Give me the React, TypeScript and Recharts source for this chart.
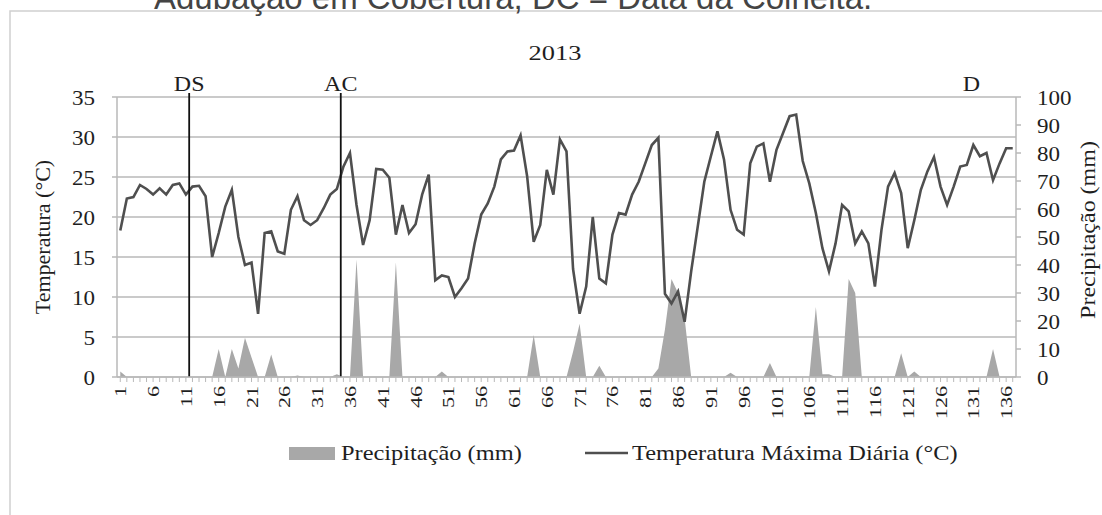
import React from 'react';
import {
  ComposedChart,
  Line,
  Area,
  XAxis,
  YAxis,
  CartesianGrid,
  ReferenceLine,
  Customized,
} from 'recharts';

// ---------- data ----------
const days: number[] = Array.from({ length: 137 }, (_, i) => i + 1);

const temperature: number[] = [
  18.3, 22.3, 22.5, 24.0, 23.5, 22.8, 23.6, 22.8, 24.0, 24.2,
  22.8, 23.8, 23.9, 22.6, 15.0, 18.0, 21.3, 23.4, 17.5, 14.0,
  14.3, 7.9, 18.0, 18.2, 15.7, 15.4, 20.9, 22.6, 19.6, 19.0,
  19.6, 21.1, 22.8, 23.5, 26.3, 28.0, 21.5, 16.5, 19.6, 26.0,
  25.9, 24.9, 17.8, 21.5, 18.0, 19.1, 22.8, 25.3, 12.1, 12.7,
  12.5, 10.0, 11.1, 12.3, 16.7, 20.3, 21.7, 23.8, 27.2, 28.2,
  28.3, 30.2, 25.1, 16.9, 19.0, 25.9, 22.8, 29.7, 28.2, 13.5,
  7.9, 11.3, 20.0, 12.3, 11.7, 17.8, 20.5, 20.3, 22.8, 24.4,
  26.7, 29.0, 29.9, 10.4, 9.2, 10.7, 6.9, 13.2, 18.8, 24.4,
  27.6, 30.7, 27.2, 20.9, 18.4, 17.8, 26.7, 28.8, 29.2, 24.4,
  28.4, 30.5, 32.6, 32.8, 27.0, 24.2, 20.5, 16.1, 13.2, 16.7,
  21.5, 20.7, 16.7, 18.2, 16.7, 11.3, 18.4, 23.8, 25.5, 23.0,
  16.1, 19.6, 23.4, 25.7, 27.5, 23.8, 21.5, 23.8, 26.3, 26.5,
  29.0, 27.6, 28.0, 24.6, 26.7, 28.6, 28.6,
];

const precipitation: number[] = [
  2, 0, 0, 0, 0, 0, 0, 0, 0, 0,
  0, 0, 0, 0, 0, 10, 0, 10, 3, 14,
  7, 0, 0, 8, 0, 0, 0, 0.5, 0, 0,
  0, 0, 0, 1, 0, 0, 42, 0, 0, 0,
  0, 0, 41, 0, 0, 0, 0, 0, 0, 2,
  0, 0, 0, 0, 0, 0, 0, 0, 0, 0,
  0, 0, 0, 15, 0, 0, 0, 0, 0, 9,
  19, 0, 0, 4, 0, 0, 0, 0, 0, 0,
  0, 0, 3, 17, 35, 30, 21, 0, 0, 0,
  0, 0, 0, 1.5, 0, 0, 0, 0, 0, 5,
  0, 0, 0, 0, 0, 0, 25, 1, 1, 0,
  0, 35, 30, 0, 0, 0, 0, 0, 0, 8.5,
  0, 2, 0, 0, 0, 0, 0, 0, 0, 0,
  0, 0, 0, 10, 0, 0, 0,
];

const xTickLabels: number[] = [
  1, 6, 11, 16, 21, 26, 31, 36, 41, 46, 51, 56, 61, 66, 71, 76, 81, 86, 91,
  96, 101, 106, 111, 116, 121, 126, 131, 136,
];
const tempTicks: number[] = [0, 5, 10, 15, 20, 25, 30, 35];
const precipTicks: number[] = [0, 10, 20, 30, 40, 50, 60, 70, 80, 90, 100];

const markerLabels: string[] = ['DS', 'AC', 'D'];
const markerDays: number[] = [11.5, 34.6, 130.7];
const markerDrawn: boolean[] = [true, true, false];

const chartYear = '2013';
const seriesNames = ['Precipitação (mm)', 'Temperatura Máxima Diária (°C)'];
const axisTitles = ['Temperatura (°C)', 'Precipitação (mm)'];
const topCaption = 'Adubação em Cobertura; DC = Data da Colheita.';

const data = days.map((d, i) => ({
  day: d,
  temp: temperature[i],
  precip: precipitation[i],
}));

// ---------- styles ----------
const SERIF = '"Liberation Serif", "Times New Roman", serif';
const SANS = '"Liberation Sans", Arial, sans-serif';
const TEXT = '#1e1e1e';
const GRID = '#b9b9b9';
const AREA_FILL = '#a8a8a8';
const LINE_COLOR = '#4f4f4f';

const LeftTick = (props: any) => {
  const { x, y, payload } = props;
  return (
    <text
      transform={`translate(${x},${y + 8}) scale(1.15,1)`}
      textAnchor="end"
      fontFamily={SERIF}
      fontSize={20}
      fill={TEXT}
    >
      {payload.value}
    </text>
  );
};

const RightTick = (props: any) => {
  const { x, y, payload } = props;
  return (
    <text
      transform={`translate(${x},${y + 8}) scale(1.15,1)`}
      textAnchor="start"
      fontFamily={SERIF}
      fontSize={20}
      fill={TEXT}
    >
      {payload.value}
    </text>
  );
};

const BottomTick = (props: any) => {
  const { x, y, payload } = props;
  if (!xTickLabels.includes(payload.value)) return <g />;
  return (
    <text
      transform={`translate(${x},${y}) rotate(-90) scale(1.3,1)`}
      textAnchor="end"
      dominantBaseline="central"
      fontFamily={SERIF}
      fontSize={17}
      fill={TEXT}
    >
      {payload.value}
    </text>
  );
};

const markerLabel = (text: string) => (props: any) => {
  const vb = props.viewBox || {};
  return (
    <text
      transform={`translate(${vb.x},${(vb.y ?? 93) - 2}) scale(1.2,1)`}
      textAnchor="middle"
      fontFamily={SERIF}
      fontSize={20}
      fill={TEXT}
    >
      {text}
    </text>
  );
};

const Overlay = () => (
  <g>
    <rect x={10} y={11} width={1300} height={700} fill="none" stroke="#cfcfcf" strokeWidth={1.5} />
    <text x={154} y={9} fontFamily={SANS} fontSize={33} fill="#444">
      {topCaption}
    </text>
    <text
      transform="translate(555,60) scale(1.2,1)"
      textAnchor="middle"
      fontFamily={SERIF}
      fontSize={22}
      fill={TEXT}
    >
      {chartYear}
    </text>
    <text
      transform="translate(43,237) rotate(-90) scale(1.1,1)"
      textAnchor="middle"
      dominantBaseline="central"
      fontFamily={SERIF}
      fontSize={20}
      fill={TEXT}
    >
      {axisTitles[0]}
    </text>
    <text
      transform="translate(1088,230) rotate(-90) scale(1.2,1)"
      textAnchor="middle"
      dominantBaseline="central"
      fontFamily={SERIF}
      fontSize={20}
      fill={TEXT}
    >
      {axisTitles[1]}
    </text>
    {/* legend */}
    <rect x={289} y={447} width={46} height={13} fill={AREA_FILL} />
    <text
      transform="translate(341,460) scale(1.22,1)"
      fontFamily={SERIF}
      fontSize={20}
      fill={TEXT}
    >
      {seriesNames[0]}
    </text>
    <line x1={585} x2={628} y1={453} y2={453} stroke={LINE_COLOR} strokeWidth={2.5} />
    <text
      transform="translate(632,460) scale(1.22,1)"
      fontFamily={SERIF}
      fontSize={20}
      fill={TEXT}
    >
      {seriesNames[1]}
    </text>
  </g>
);

export default function App() {
  return (
    <div
      style={{
        position: 'absolute',
        left: 0,
        top: 0,
        width: 1102,
        height: 515,
        overflow: 'hidden',
        background: '#fff',
      }}
    >
      <ComposedChart
        width={1102}
        height={515}
        data={data}
        margin={{ top: 97, right: 0, bottom: 0, left: 0 }}
      >
        <Customized component={<Overlay />} />
        <CartesianGrid
          yAxisId="t"
          vertical={false}
          stroke={GRID}
          strokeWidth={1.5}
        />
        <XAxis
          dataKey="day"
          type="number"
          domain={[0.5, 137.5]}
          ticks={days}
          interval={0}
          height={138}
          tickSize={5}
          tickMargin={4}
          tick={<BottomTick />}
          axisLine={{ stroke: GRID, strokeWidth: 1.5 }}
          tickLine={{ stroke: GRID, strokeWidth: 1 }}
          allowDataOverflow
        />
        <YAxis
          yAxisId="t"
          domain={[0, 35]}
          ticks={tempTicks}
          interval={0}
          width={117}
          tickSize={5}
          tickMargin={17}
          tick={<LeftTick />}
          axisLine={{ stroke: GRID, strokeWidth: 1.5 }}
          tickLine={{ stroke: GRID, strokeWidth: 1.5 }}
        />
        <YAxis
          yAxisId="p"
          orientation="right"
          domain={[0, 100]}
          ticks={precipTicks}
          interval={0}
          width={86}
          tickSize={5}
          tickMargin={16}
          tick={<RightTick />}
          axisLine={{ stroke: GRID, strokeWidth: 1.5 }}
          tickLine={{ stroke: GRID, strokeWidth: 1.5 }}
        />
        <Area
          yAxisId="p"
          dataKey="precip"
          type="linear"
          fill={AREA_FILL}
          fillOpacity={1}
          stroke="none"
          isAnimationActive={false}
        />
        <Line
          yAxisId="t"
          dataKey="temp"
          type="linear"
          stroke={LINE_COLOR}
          strokeWidth={2.6}
          dot={false}
          activeDot={false}
          isAnimationActive={false}
        />
        {markerLabels.map((lab, i) => (
          <ReferenceLine
            key={lab}
            yAxisId="t"
            segment={[
              { x: markerDays[i], y: markerDrawn[i] ? 0 : 35.5 },
              { x: markerDays[i], y: 35.5 },
            ]}
            ifOverflow="visible"
            stroke={markerDrawn[i] ? '#111' : 'none'}
            strokeWidth={1.8}
            label={markerLabel(lab)}
          />
        ))}
      </ComposedChart>
    </div>
  );
}
